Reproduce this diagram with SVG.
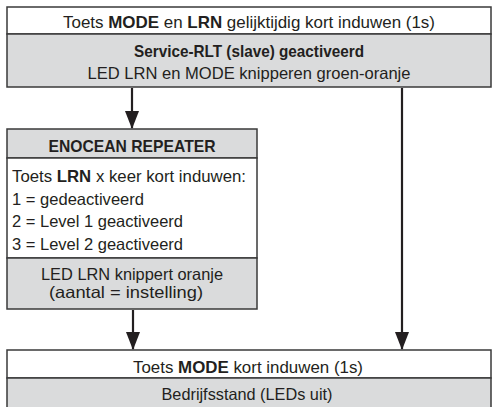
<svg xmlns="http://www.w3.org/2000/svg" width="493" height="407" viewBox="0 0 493 407">
<defs>
<style>
.box{fill:#fff;stroke:#3a3a3a;stroke-width:1.5}
.gray{fill:#dadbdc;stroke:#3a3a3a;stroke-width:1.5}
text{font-family:"Liberation Sans",Arial,sans-serif;font-size:16.5px;fill:#231f20}
.c{text-anchor:middle}
.b{font-weight:bold}
.conn{stroke:#231f20;stroke-width:2.2;fill:none}
</style>
<marker id="arr" markerUnits="userSpaceOnUse" markerWidth="18" markerHeight="14" refX="17" refY="7" orient="auto" viewBox="0 0 18 14">
<path d="M0,0 L18,7 L0,14 z" fill="#231f20"/>
</marker>
</defs>
<g id="start">
<rect class="box" x="7" y="7" width="484" height="27"/>
<text class="c" x="249" y="28" textLength="372" lengthAdjust="spacingAndGlyphs">Toets <tspan class="b">MODE</tspan> en <tspan class="b">LRN</tspan> gelijktijdig kort induwen (1s)</text>
</g>
<g id="service">
<rect class="gray" x="7" y="34" width="484" height="53"/>
<text class="c b" x="249" y="57" textLength="230" lengthAdjust="spacingAndGlyphs">Service-RLT (slave) geactiveerd</text>
<text class="c" x="249" y="79" textLength="323" lengthAdjust="spacingAndGlyphs">LED LRN en MODE knipperen groen-oranje</text>
</g>
<g id="repeater">
<rect class="gray" x="7" y="129" width="250" height="29"/>
<text class="c b" x="132" y="152" textLength="167" lengthAdjust="spacingAndGlyphs">ENOCEAN REPEATER</text>
<rect class="box" x="7" y="158" width="250" height="100"/>
<text x="12" y="182" textLength="234" lengthAdjust="spacingAndGlyphs">Toets <tspan class="b">LRN</tspan> x keer kort induwen:</text>
<text x="12" y="205" textLength="132" lengthAdjust="spacingAndGlyphs">1 = gedeactiveerd</text>
<text x="12" y="227" textLength="171" lengthAdjust="spacingAndGlyphs">2 = Level 1 geactiveerd</text>
<text x="12" y="250" textLength="171" lengthAdjust="spacingAndGlyphs">3 = Level 2 geactiveerd</text>
<rect class="gray" x="7" y="258" width="250" height="51"/>
<text class="c" x="132" y="280" textLength="182" lengthAdjust="spacingAndGlyphs">LED LRN knippert oranje</text>
<text class="c" x="126" y="298" textLength="154" lengthAdjust="spacingAndGlyphs">(aantal = instelling)</text>
</g>
<g id="end">
<rect class="box" x="7" y="350" width="484" height="28"/>
<text class="c" x="248" y="373" textLength="230" lengthAdjust="spacingAndGlyphs">Toets <tspan class="b">MODE</tspan> kort induwen (1s)</text>
<rect class="gray" x="7" y="378" width="484" height="40"/>
<text class="c" x="247" y="400" textLength="171" lengthAdjust="spacingAndGlyphs">Bedrijfsstand (LEDs uit)</text>
</g>
<g id="connectors">
<line class="conn" x1="132" y1="88" x2="132" y2="128" marker-end="url(#arr)"/>
<line class="conn" x1="402" y1="88" x2="402" y2="349" marker-end="url(#arr)"/>
<line class="conn" x1="133" y1="310" x2="133" y2="349" marker-end="url(#arr)"/>
</g>
</svg>
